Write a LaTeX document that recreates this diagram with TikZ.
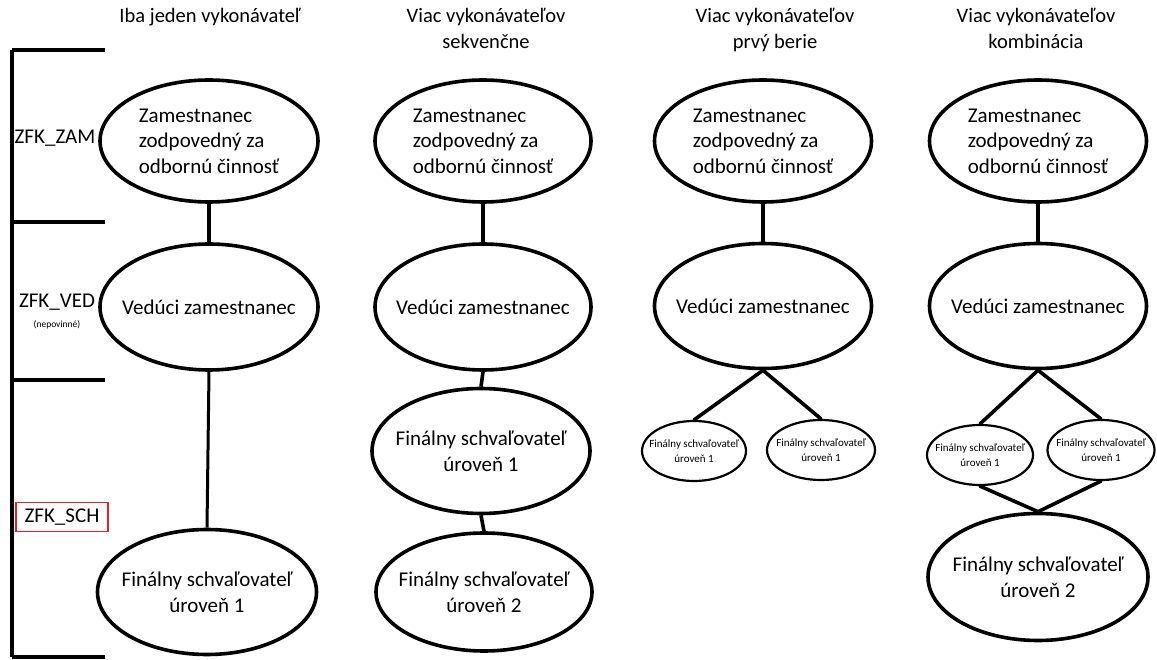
\documentclass[tikz,border=0pt]{standalone}
\usepackage{fontspec}
\setmainfont{Carlito}
\usetikzlibrary{shapes.geometric}
\definecolor{zfkred}{RGB}{228,32,40}
\tikzset{
  el/.style={draw=black, line width=3.6pt, ellipse, inner sep=0pt, fill=white},
  smallel/.style={draw=black, line width=2.2pt, ellipse, inner sep=0pt, fill=white},
  bigtxt/.style={font=\fontsize{21}{26}\selectfont, inner sep=0pt, align=center},
  bigtxtl/.style={font=\fontsize{21}{25.5}\selectfont, inner sep=0pt, align=left},
  smtxt/.style={font=\fontsize{11}{15}\selectfont, inner sep=0pt, align=center},
  conn/.style={line width=3.6pt, black},
  hdr/.style={font=\fontsize{20.5}{26.5}\selectfont, align=center, inner sep=0pt, anchor=north},
  lbl/.style={font=\fontsize{21}{24}\selectfont, inner sep=0pt},
  brk/.style={line width=4pt, black},
}
\begin{document}
\begin{tikzpicture}[x=1pt,y=-1pt]
\useasboundingbox (0,0) rectangle (1157,660);
\fill[white] (0,0) rectangle (1157,660);

% bracket on the left
\coordinate (bt) at (12,50);
\coordinate (bb) at (12,657);
\coordinate (t1) at (12,222);
\coordinate (t2) at (12,380);
\coordinate (e0) at (105,50);
\coordinate (e1) at (105,222);
\coordinate (e2) at (105,380);
\coordinate (e3) at (105,657);
\draw[brk] (bt) -- (bb);
\draw[brk] (bt) -- (e0);
\draw[brk] (t1) -- (e1);
\draw[brk] (t2) -- (e2);
\draw[brk] (bb) -- (e3);

\node[lbl] (lzam) at (55,138) {ZFK\_ZAM};
\node[lbl] (lved) at (57,302) {ZFK\_VED};
\node[font=\fontsize{9.5}{11}\selectfont, inner sep=0pt] (lnep) at (57,325) {(nepovinné)};
\node[lbl, draw=zfkred, line width=1.6pt, minimum width=92pt, minimum height=29pt] (lsch) at (62,517) {ZFK\_SCH};

% headers
\node[hdr] (h1) at (210,8) {Iba jeden vykonávateľ};
\node[hdr] (h2) at (486,8) {Viac vykonávateľov\\sekvenčne};
\node[hdr] (h3) at (775,8) {Viac vykonávateľov\\prvý berie};
\node[hdr] (h4) at (1036,8) {Viac vykonávateľov\\kombinácia};

% column 1
\node[el, minimum width=218pt, minimum height=122pt,
  label={[bigtxtl]center:{Zamestnanec\\zodpovedný za\\odbornú činnosť}}] (c1a) at (209,141) {};
\node[el, minimum width=218pt, minimum height=126pt,
  label={[bigtxt]center:{Vedúci zamestnanec}}] (c1b) at (209,307) {};
\node[el, minimum width=219pt, minimum height=125pt,
  label={[bigtxt]center:{Finálny schvaľovateľ\\úroveň 1}}] (c1c) at (207,592) {};
\draw[conn] (c1a.south) -- (c1b.north);
\draw[conn, line width=3pt] (c1b.south) -- (c1c.north);

% column 2
\node[el, minimum width=216pt, minimum height=122pt,
  label={[bigtxtl]center:{Zamestnanec\\zodpovedný za\\odbornú činnosť}}] (c2a) at (483,141) {};
\node[el, minimum width=216pt, minimum height=126pt,
  label={[bigtxt]center:{Vedúci zamestnanec}}] (c2b) at (483,307) {};
\node[el, minimum width=218pt, minimum height=125pt,
  label={[bigtxt]center:{Finálny schvaľovateľ\\úroveň 1}}] (c2c) at (481,451) {};
\node[el, minimum width=216pt, minimum height=118pt,
  label={[bigtxt]center:{Finálny schvaľovateľ\\úroveň 2}}] (c2d) at (484,592) {};
\draw[conn] (c2a.south) -- (c2b.north);
\draw[conn] (c2b.south) -- (c2c.north);
\draw[conn] (c2c.south) -- (c2d.north);

% column 3
\node[el, minimum width=217pt, minimum height=122pt,
  label={[bigtxtl]center:{Zamestnanec\\zodpovedný za\\odbornú činnosť}}] (c3a) at (763,141) {};
\node[el, minimum width=217pt, minimum height=125pt,
  label={[bigtxt]center:{Vedúci zamestnanec}}] (c3b) at (763,306) {};
\node[smallel, minimum width=104pt, minimum height=60pt,
  label={[smtxt]center:{Finálny schvaľovateľ\\úroveň 1}}] (c3l) at (694,451) {};
\node[smallel, minimum width=108pt, minimum height=60pt,
  label={[smtxt]center:{Finálny schvaľovateľ\\úroveň 1}}] (c3r) at (821,450) {};
\draw[conn] (c3a.south) -- (c3b.north);
\draw[conn, line cap=round] (c3b.south) -- (c3l.north);
\draw[conn, line cap=round] (c3b.south) -- (c3r.north);

% column 4
\node[el, minimum width=217pt, minimum height=122pt,
  label={[bigtxtl]center:{Zamestnanec\\zodpovedný za\\odbornú činnosť}}] (c4a) at (1038,141) {};
\node[el, minimum width=217pt, minimum height=125pt,
  label={[bigtxt]center:{Vedúci zamestnanec}}] (c4b) at (1038,306) {};
\node[smallel, minimum width=106pt, minimum height=60pt,
  label={[smtxt]center:{Finálny schvaľovateľ\\úroveň 1}}] (c4l) at (980,455) {};
\node[smallel, minimum width=107pt, minimum height=60pt,
  label={[smtxt]center:{Finálny schvaľovateľ\\úroveň 1}}] (c4r) at (1101,450) {};
\node[el, minimum width=220pt, minimum height=127pt,
  label={[bigtxt]center:{Finálny schvaľovateľ\\úroveň 2}}] (c4d) at (1038,577) {};
\draw[conn] (c4a.south) -- (c4b.north);
\draw[conn, line cap=round] (c4b.south) -- (c4l.north);
\draw[conn, line cap=round] (c4b.south) -- (c4r.north);
\draw[conn, line cap=round] (c4l.south) -- (c4d.north);
\draw[conn, line cap=round] (c4r.south) -- (c4d.north);
\end{tikzpicture}
\end{document}
